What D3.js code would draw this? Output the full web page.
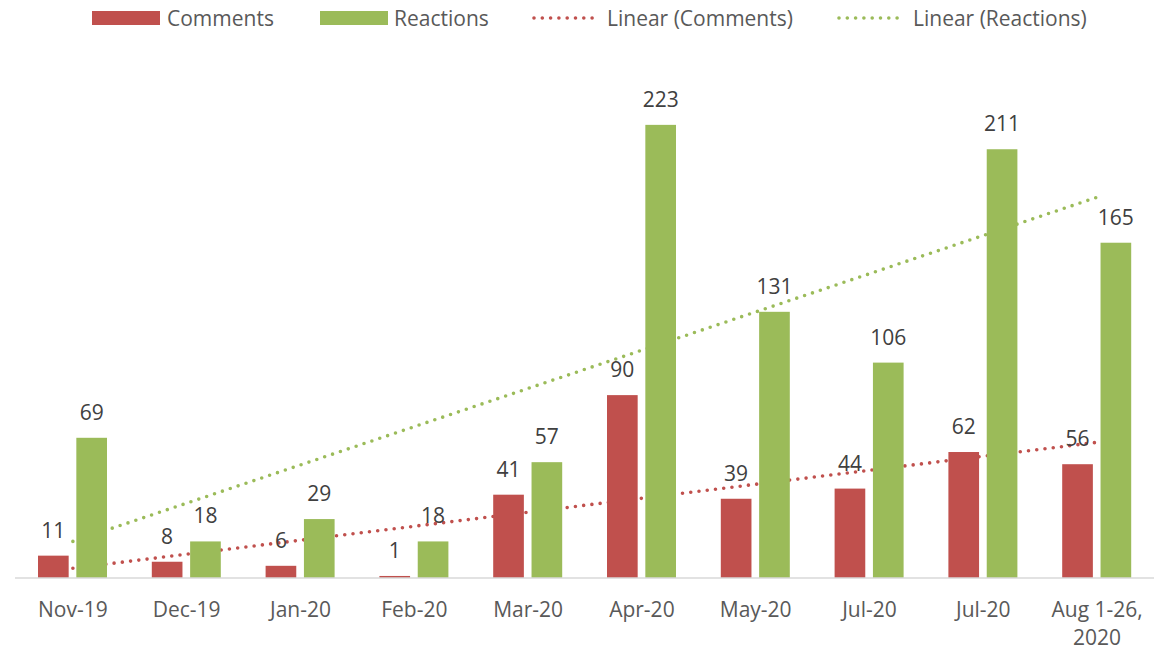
<!DOCTYPE html>
<html lang="en">
<head>
    <meta charset="UTF-8">
    <title>Comments and Reactions</title>
    <style>
        body {
            margin: 0;
            padding: 0;
            background-color: #fff;
            font-family: 'Open Sans', sans-serif;
        }
        svg {
            display: block;
        }
        .value-label {
            fill: #404040;
            font-size: 21px;
        }
        .axis-label, .legend-text {
            fill: #595959;
            font-size: 21px;
        }
    </style>
</head>
<body>
    <svg id="chart"></svg>

    <script src="https://d3js.org/d3.v7.min.js"></script>
    <script>
// chart data
const categories = ["Nov-19", "Dec-19", "Jan-20", "Feb-20", "Mar-20", "Apr-20", "May-20", "Jul-20", "Jul-20", "Aug 1-26, 2020"];
const comments = [11, 8, 6, 1, 41, 90, 39, 44, 62, 56];
const reactions = [69, 18, 29, 18, 57, 223, 131, 106, 211, 165];
const seriesNames = ["Comments", "Reactions"];
const colors = {Comments: "#C0504D", Reactions: "#9BBB59"};

const width = 1171, height = 653;

const svg = d3.select("#chart")
    .attr("width", width)
    .attr("height", height);

// scales
const x = d3.scaleBand()
    .domain(d3.range(categories.length))
    .range([16, 1154]);

const xSub = d3.scaleBand()
    .domain(seriesNames)
    .range([22, 91])
    .paddingInner(0.2);

const y = d3.scaleLinear()
    .domain([0, 250])
    .range([578, 70]);

const rows = categories.map((c, i) => ({i: i, Comments: comments[i], Reactions: reactions[i]}));

// linear trend (least squares over x = 1..n), drawn behind the bars
function trend(values) {
    const xs = values.map((v, i) => i + 1);
    const mx = d3.mean(xs), my = d3.mean(values);
    const slope = d3.sum(xs, (xv, i) => (xv - mx) * (values[i] - my)) / d3.sum(xs, xv => (xv - mx) ** 2);
    const b = my - slope * mx;
    return [0, values.length - 1].map(i => ({i: i, v: b + slope * (i + 1)}));
}

const line = d3.line()
    .x(d => x(d.i) + x.bandwidth() / 2)
    .y(d => y(d.v));

const trends = svg.append("g").attr("class", "trends");
[["Comments", comments], ["Reactions", reactions]].forEach(([name, vals]) => {
    trends.append("path")
        .datum(trend(vals))
        .attr("d", line)
        .attr("fill", "none")
        .attr("stroke", colors[name])
        .attr("stroke-width", 3.6)
        .attr("stroke-linecap", "round")
        .attr("stroke-dasharray", "0,8.3");
});

// bars
const groups = svg.append("g").attr("class", "bars")
    .selectAll("g")
    .data(rows)
    .join("g")
    .attr("transform", d => `translate(${x(d.i)},0)`);

groups.selectAll("rect")
    .data(d => seriesNames.map(k => ({key: k, value: d[k]})))
    .join("rect")
    .attr("x", d => xSub(d.key))
    .attr("width", xSub.bandwidth())
    .attr("y", d => y(d.value))
    .attr("height", d => y(0) - y(d.value))
    .attr("fill", d => colors[d.key]);

// value labels
groups.selectAll("text")
    .data(d => seriesNames.map(k => ({key: k, value: d[k]})))
    .join("text")
    .attr("class", "value-label")
    .attr("x", d => xSub(d.key) + xSub.bandwidth() / 2)
    .attr("y", d => y(d.value) - 18)
    .attr("text-anchor", "middle")
    .text(d => d.value);

// x axis baseline
svg.append("line")
    .attr("x1", 15)
    .attr("x2", 1154)
    .attr("y1", y(0))
    .attr("y2", y(0))
    .attr("stroke", "#d9d9d9")
    .attr("stroke-width", 1.5);

// category labels (the last one wraps onto two lines)
const labels = svg.append("g").selectAll("text")
    .data(categories)
    .join("text")
    .attr("class", "axis-label")
    .attr("text-anchor", "middle")
    .attr("y", 617);

labels.each(function(c, i) {
    const parts = c === "Aug 1-26, 2020" ? ["Aug 1-26,", "2020"] : [c];
    d3.select(this).selectAll("tspan")
        .data(parts)
        .join("tspan")
        .attr("x", x(i) + x.bandwidth() / 2)
        .attr("dy", (p, j) => j === 0 ? 0 : 28)
        .text(p => p);
});

// legend
const legendItems = [
    {name: "Comments", type: "rect", color: colors.Comments, x: 92, tx: 167},
    {name: "Reactions", type: "rect", color: colors.Reactions, x: 320, tx: 394},
    {name: "Linear (Comments)", type: "line", color: colors.Comments, x: 534, tx: 607},
    {name: "Linear (Reactions)", type: "line", color: colors.Reactions, x: 839, tx: 913}
];

const legend = svg.append("g").attr("class", "legend");
legendItems.forEach(item => {
    if (item.type === "rect") {
        legend.append("rect")
            .attr("x", item.x)
            .attr("y", 11)
            .attr("width", 68)
            .attr("height", 14)
            .attr("fill", item.color);
    } else {
        legend.append("line")
            .attr("x1", item.x)
            .attr("x2", item.x + 66)
            .attr("y1", 18)
            .attr("y2", 18)
            .attr("stroke", item.color)
            .attr("stroke-width", 3.6)
            .attr("stroke-linecap", "round")
            .attr("stroke-dasharray", "0,8.3");
    }
    legend.append("text")
        .attr("class", "legend-text")
        .attr("x", item.tx)
        .attr("y", 26)
        .text(item.name);
});
    </script>
</body>
</html>
